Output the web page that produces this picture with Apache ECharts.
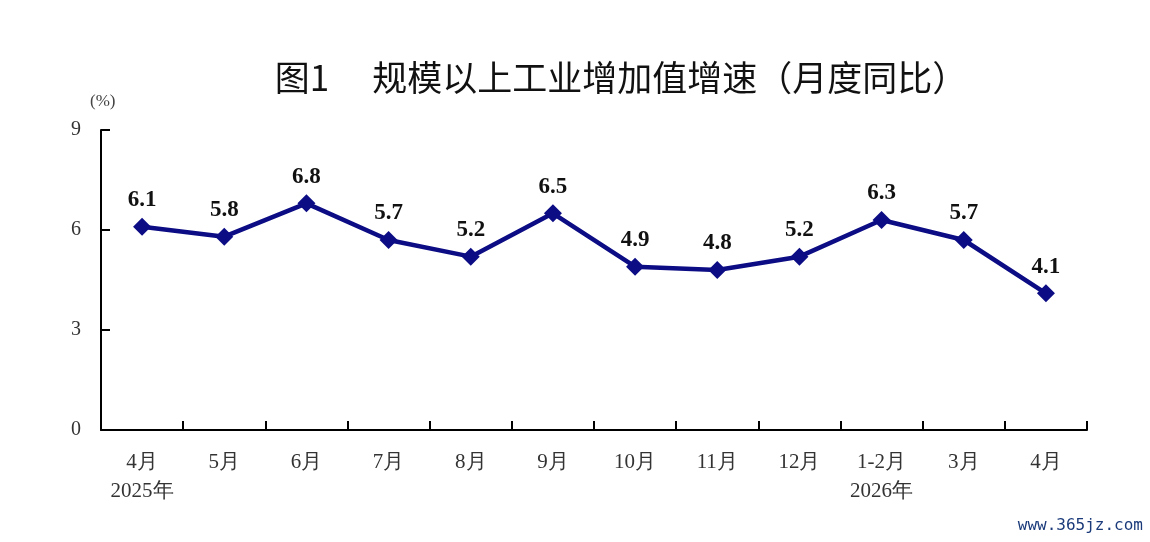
<!DOCTYPE html>
<html>
<head>
<meta charset="utf-8">
<script src="https://cdn.jsdelivr.net/npm/echarts@6/dist/echarts.min.js"></script>
<style>
  html, body { margin: 0; padding: 0; background: #fff; }
  #chartArea { width: 1150px; height: 542px; }
</style>
</head>
<body>
<div id="chartArea"></div>
<script>
// data
var months = ['4月\n2025年', '5月', '6月', '7月', '8月', '9月', '10月', '11月', '12月', '1-2月\n2026年', '3月', '4月'];
var growth = [6.1, 5.8, 6.8, 5.7, 5.2, 6.5, 4.9, 4.8, 5.2, 6.3, 5.7, 4.1];
var yTicks = [0, 3, 6, 9];

var chartDom = document.getElementById('chartArea');
var myChart = echarts.init(chartDom);
var option;

option = {
    backgroundColor: '#fff',
    animation: false,
    title: {
        text: '图1　 规模以上工业增加值增速（月度同比）',
        left: 616,
        top: 55,
        textAlign: 'center',
        textStyle: {
            fontFamily: 'Noto Sans CJK SC',
            fontSize: 35,
            fontWeight: 'normal',
            color: '#111'
        }
    },
    graphic: [
        {
            type: 'text',
            left: 90,
            top: 93,
            style: { text: '(%)', fontFamily: 'Liberation Serif', fontSize: 17, fill: '#444' }
        },
        {
            type: 'text',
            right: 7,
            bottom: 8,
            style: { text: 'www.365jz.com', fontFamily: 'DejaVu Sans Mono', fontSize: 16, fill: '#1a3a7a' }
        }
    ],
    grid: {
        left: 101,
        right: 63,
        top: 130,
        bottom: 112
    },
    xAxis: {
        type: 'category',
        data: months,
        boundaryGap: true,
        axisLine: { lineStyle: { color: '#000', width: 2 } },
        axisTick: { show: true, inside: true, length: 9, lineStyle: { color: '#000', width: 2 } },
        axisLabel: {
            margin: 18,
            fontFamily: 'Liberation Serif',
            fontSize: 21,
            lineHeight: 29,
            color: '#333'
        }
    },
    yAxis: {
        type: 'value',
        min: yTicks[0],
        max: yTicks[yTicks.length - 1],
        interval: 3,
        splitLine: { show: false },
        axisLine: { show: true, lineStyle: { color: '#000', width: 2 } },
        axisTick: { show: true, inside: true, length: 9, lineStyle: { color: '#000', width: 2 } },
        axisLabel: {
            margin: 20,
            fontFamily: 'Liberation Serif',
            fontSize: 20,
            color: '#333'
        }
    },
    series: [{
        type: 'line',
        data: growth,
        symbol: 'diamond',
        symbolSize: 18,
        lineStyle: { color: '#0c0c84', width: 4.5 },
        itemStyle: { color: '#0c0c84' },
        label: {
            show: true,
            position: 'top',
            distance: 6,
            fontFamily: 'Liberation Serif',
            fontWeight: 'bold',
            fontSize: 23,
            color: '#111'
        }
    }]
};

option && myChart.setOption(option);
</script>
</body>
</html>
